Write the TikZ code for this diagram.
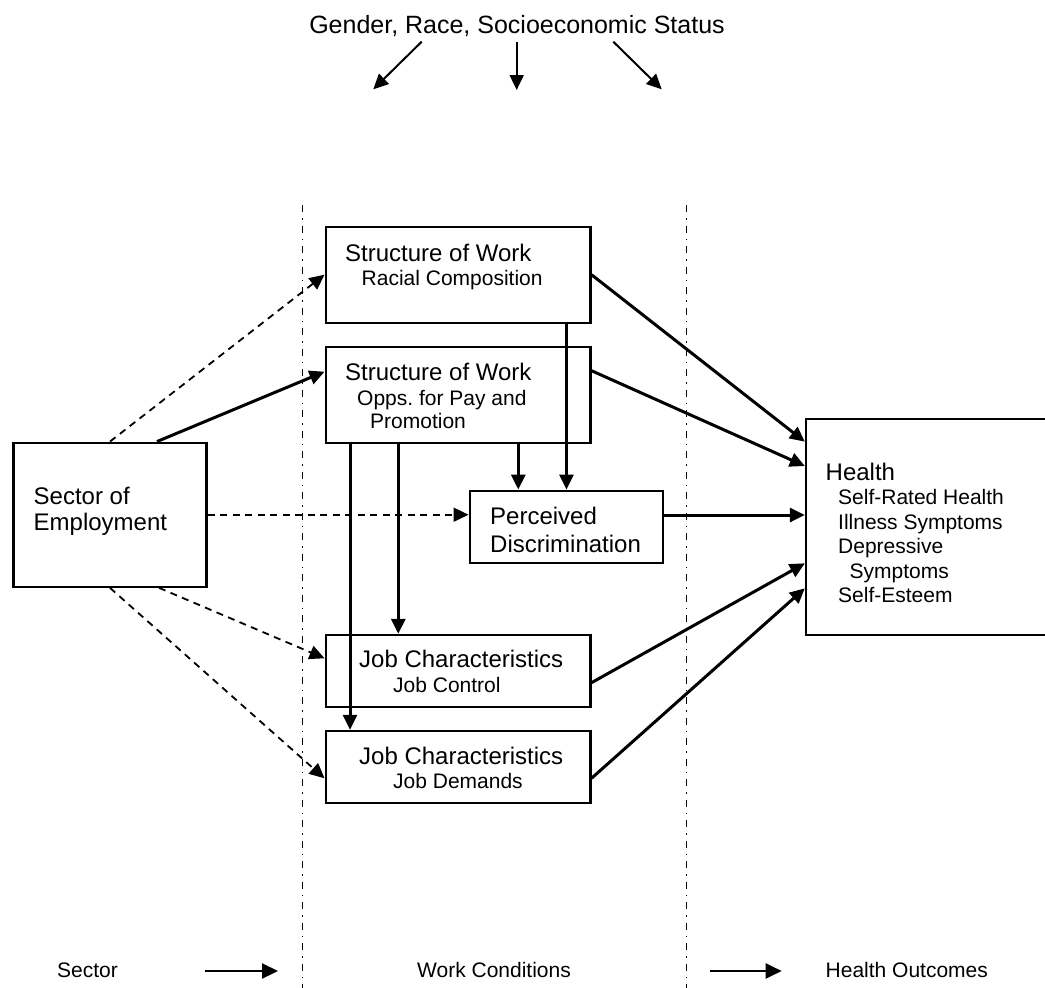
\documentclass[tikz,border=0pt]{standalone}
\usepackage{fontspec}
\setmainfont{Liberation Sans}
\usetikzlibrary{arrows.meta}
\tikzset{box/.style={draw,line width=2.3pt,inner sep=0pt},
    txt/.style={inner sep=0pt,anchor=base west,font=\fontsize{24}{28}\selectfont},
    subtxt/.style={txt,font=\fontsize{21}{25}\selectfont},
    arr/.style={line width=3pt,-{Triangle[length=15pt,width=14pt]}},
    darr/.style={line width=1.8pt,dash pattern=on 7pt off 5.5pt,-{Triangle[length=15pt,width=14pt]}},
    toparr/.style={line width=2pt,-{Triangle[length=15pt,width=14pt]}},
    keyarr/.style={line width=2.2pt,-{Triangle[length=16pt,width=15pt]}},
    divider/.style={line width=1.6pt,dash pattern=on 7pt off 6pt on 1.5pt off 6pt}}
\begin{document}
\begin{tikzpicture}[x=1pt,y=-1pt]
\useasboundingbox (0,0) rectangle (1045,988);
\clip (0,0) rectangle (1045,988);

\node[txt,anchor=base,font=\fontsize{25}{29}\selectfont] (factors) at (517,33) {Gender, Race, Socioeconomic Status};
\coordinate (fl1) at (421.7,41.7); \coordinate (fl2) at (373.3,89.3);
\coordinate (fm1) at (516.7,41.7); \coordinate (fm2) at (516.7,90);
\coordinate (fr1) at (613.3,41.7); \coordinate (fr2) at (661.7,89.3);
\draw[toparr] (fl1) -- (fl2);
\draw[toparr] (fm1) -- (fm2);
\draw[toparr] (fr1) -- (fr2);

\draw[divider] (302.3,205) -- (302.3,988);
\draw[divider] (686.3,205) -- (686.3,988);

\node[box,minimum width=192.8pt,minimum height=144pt] (sector) at (110,514.7) {};
\node[box,minimum width=264.7pt,minimum height=96pt] (racial) at (458,274.7) {};
\node[box,minimum width=264.7pt,minimum height=96pt] (opps) at (458,394.7) {};
\node[box,minimum width=193pt,minimum height=72pt] (perc) at (566.2,526.7) {};
\node[box,minimum width=264.7pt,minimum height=71.7pt] (jobc) at (458,670.8) {};
\node[box,minimum width=264.7pt,minimum height=71.7pt] (jobd) at (458,766.8) {};
\node[box,minimum width=254pt,minimum height=216pt] (health) at (933,527) {};

\node[txt] (sector1) at (33.5,504) {Sector of};
\node[txt] (sector2) at (33.5,530) {Employment};
\node[txt] (racial1) at (345,261) {Structure of Work};
\node[subtxt] (racial2) at (361.5,285) {Racial Composition};
\node[txt] (opps1) at (345,380) {Structure of Work};
\node[subtxt] (opps2) at (357,405) {Opps.\ for Pay and};
\node[subtxt] (opps3) at (370,428.5) {Promotion};
\node[txt] (perc1) at (490,524) {Perceived};
\node[txt] (perc2) at (490,552) {Discrimination};
\node[txt] (jobc1) at (359,667) {Job Characteristics};
\node[subtxt] (jobc2) at (393,692) {Job Control};
\node[txt] (jobd1) at (359,764) {Job Characteristics};
\node[subtxt] (jobd2) at (393,788) {Job Demands};
\node[txt] (health1) at (825.5,480) {Health};
\node[subtxt] (health2) at (838,504.5) {Self-Rated Health};
\node[subtxt] (health3) at (838,529) {Illness Symptoms};
\node[subtxt] (health4) at (838,553.5) {Depressive};
\node[subtxt] (health5) at (849.5,578) {Symptoms};
\node[subtxt] (health6) at (838,602.5) {Self-Esteem};

\draw[darr] (sector.north) -- (racial.west);
\draw[arr] ([xshift=47pt]sector.north) -- ([yshift=23pt]opps.west);
\draw[darr] (sector.east) -- (sector.east -| perc.west);
\draw[darr] ([xshift=49pt]sector.south) -- ([yshift=12.5pt]jobc.west);
\draw[darr] (sector.south) -- ([yshift=-11.5pt]jobd.west);

\draw[arr] ([xshift=60.3pt]opps.south) -- ([xshift=60.3pt]opps.south |- perc.north);
\draw[arr] ([xshift=108.5pt]racial.south) -- ([xshift=108.5pt]racial.south |- perc.north);
\draw[arr] ([xshift=-59.7pt]opps.south) -- ([xshift=-59.7pt]opps.south |- jobc.north);
\draw[arr] ([xshift=-108pt]opps.south) -- ([xshift=-108pt]opps.south |- jobd.north);

\draw[arr] (racial.east) -- ([yshift=85.3pt]health.west);
\draw[arr] ([yshift=24pt]opps.east) -- ([yshift=61pt]health.west);
\draw[arr] ([yshift=11.7pt]perc.east) -- ([yshift=11.7pt]perc.east -| health.west);
\draw[arr] ([yshift=-11.9pt]jobc.east) -- ([yshift=-36.3pt]health.west);
\draw[arr] ([yshift=-11.5pt]jobd.east) -- ([yshift=-61.3pt]health.west);

\node[subtxt] (keysector) at (57,977) {Sector};
\node[subtxt] (keywork) at (417,977) {Work Conditions};
\node[subtxt] (keyhealth) at (825.5,977) {Health Outcomes};
\coordinate (ks1) at (205,971); \coordinate (ks2) at (278,971);
\coordinate (kh1) at (710,971); \coordinate (kh2) at (781.7,971);
\draw[keyarr] (ks1) -- (ks2);
\draw[keyarr] (kh1) -- (kh2);
\end{tikzpicture}
\end{document}
